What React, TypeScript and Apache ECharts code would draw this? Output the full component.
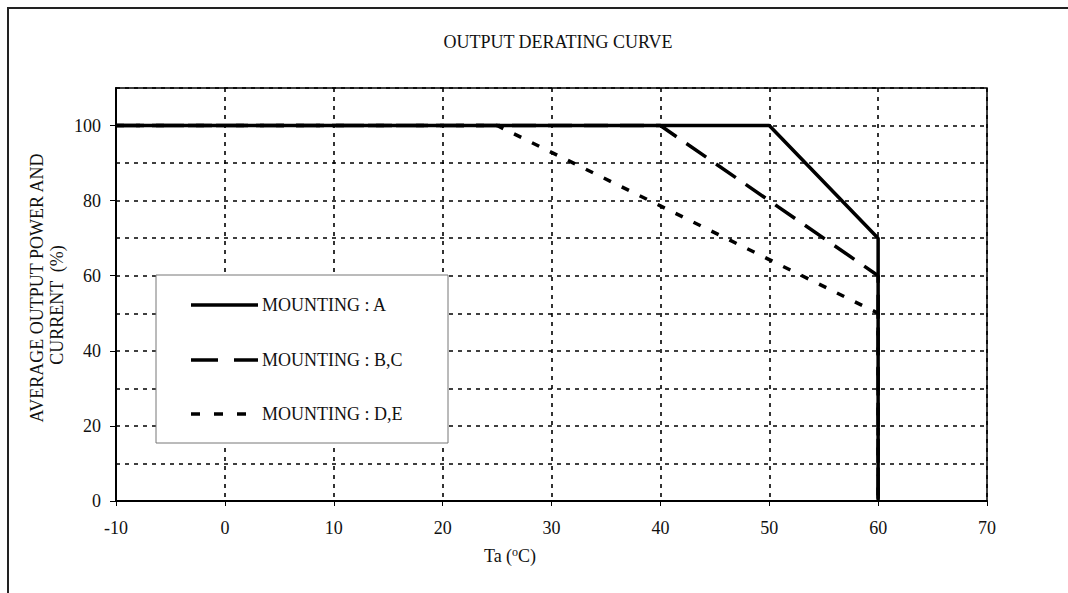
import React, { useEffect, useRef } from "react";
import * as echarts from "echarts";

const title = "OUTPUT DERATING CURVE";
const yNameLine1 = "AVERAGE OUTPUT POWER AND";
const yNameLine2 = "CURRENT  (%)";
const seriesNames = ["MOUNTING : A", "MOUNTING : B,C", "MOUNTING : D,E"];
const mountingA: [number, number][] = [[-10, 100], [50, 100], [60, 70], [60, 0]];
const mountingBC: [number, number][] = [[-10, 100], [40, 100], [50, 80], [60, 60], [60, 0]];
const mountingDE: [number, number][] = [[-10, 100], [25, 100], [40, 78.6], [50, 64.3], [60, 50], [60, 0]];

const FONT = "'Liberation Serif', 'Times New Roman', serif";
const dashes: (number[] | null)[] = [null, [27, 16], [9, 14]];

export default function App() {
  const ref = useRef<HTMLDivElement>(null);
  useEffect(() => {
    if (!ref.current) return;
    const chart = echarts.init(ref.current, undefined, { renderer: "svg" });
    const dotted = { color: "#000", width: 1.6, type: [4, 5] as number[] };

    const legendRows = [305, 360, 414];
    const legendGraphics: any[] = [];
    seriesNames.forEach((name, i) => {
      legendGraphics.push({
        type: "line",
        z: 7,
        shape: { x1: 191, y1: legendRows[i], x2: 258, y2: legendRows[i] },
        style: {
          stroke: "#000",
          lineWidth: 3.5,
          lineDash: dashes[i] || undefined,
        },
      });
      legendGraphics.push({
        type: "text",
        z: 7,
        x: 262,
        y: legendRows[i],
        style: {
          text: name,
          font: `18px ${FONT}`,
          fill: "#111",
          textAlign: "left",
          textVerticalAlign: "middle",
        },
      });
    });

    chart.setOption({
      animation: false,
      backgroundColor: "#fff",
      textStyle: { fontFamily: FONT, color: "#111" },
      grid: {
        left: 116,
        top: 88,
        right: 81,
        bottom: 92,
        show: true,
        borderColor: "#000",
        borderWidth: 1.5,
        backgroundColor: "transparent",
      },
      xAxis: {
        type: "value",
        min: -10,
        max: 70,
        interval: 10,
        axisLine: { onZero: false, lineStyle: { color: "#000", width: 2 } },
        axisTick: { show: true, length: 5, lineStyle: { color: "#000" } },
        axisLabel: { fontSize: 18, fontFamily: FONT, color: "#111", margin: 18 },
        splitLine: { show: true, lineStyle: dotted },
      },
      yAxis: [
        {
          type: "value",
          min: 0,
          max: 110,
          interval: 20,
          axisLine: { show: true, onZero: false, lineStyle: { color: "#000", width: 2 } },
          axisTick: { show: true, length: 6, lineStyle: { color: "#000" } },
          axisLabel: {
            fontSize: 18,
            fontFamily: FONT,
            color: "#111",
            margin: 15,
            showMaxLabel: false,
          },
          splitLine: { show: false },
        },
        {
          type: "value",
          min: 0,
          max: 110,
          interval: 10,
          position: "left",
          axisLine: { show: false, onZero: false },
          axisTick: { show: false },
          axisLabel: { show: false },
          splitLine: { show: true, lineStyle: dotted },
        },
      ],
      series: [
        {
          name: seriesNames[0],
          type: "line",
          data: mountingA,
          symbol: "none",
          z: 5,
          lineStyle: { color: "#000", width: 3.5, type: "solid" },
          itemStyle: { color: "#000" },
        },
        {
          name: seriesNames[1],
          type: "line",
          data: mountingBC,
          symbol: "none",
          z: 4,
          lineStyle: { color: "#000", width: 3.5, type: [24, 12] },
          itemStyle: { color: "#000" },
        },
        {
          name: seriesNames[2],
          type: "line",
          data: mountingDE,
          symbol: "none",
          z: 3,
          lineStyle: { color: "#000", width: 3.5, type: [8, 12] },
          itemStyle: { color: "#000" },
        },
      ],
      graphic: [
        {
          type: "polyline",
          z: 1,
          shape: { points: [[8, 593], [8, 8], [1068, 8]] },
          style: { stroke: "#222", lineWidth: 2, fill: "none" },
        },
        {
          type: "rect",
          z: 6,
          shape: { x: 156, y: 275, width: 292, height: 168 },
          style: { fill: "#fff", stroke: "#777", lineWidth: 1 },
        },
        ...legendGraphics,
        {
          type: "text",
          x: 558,
          y: 42,
          style: {
            text: title,
            font: `18px ${FONT}`,
            fill: "#111",
            textAlign: "center",
            textVerticalAlign: "middle",
          },
        },
        {
          type: "text",
          x: 37,
          y: 288,
          rotation: Math.PI / 2,
          style: {
            text: yNameLine1,
            font: `18px ${FONT}`,
            fill: "#111",
            textAlign: "center",
            textVerticalAlign: "middle",
          },
        },
        {
          type: "text",
          x: 57,
          y: 305,
          rotation: Math.PI / 2,
          style: {
            text: yNameLine2,
            font: `18px ${FONT}`,
            fill: "#111",
            textAlign: "center",
            textVerticalAlign: "middle",
          },
        },
        {
          type: "text",
          x: 510,
          y: 556,
          style: {
            text: "Ta ({sup|o}C)",
            font: `18px ${FONT}`,
            fill: "#111",
            textAlign: "center",
            textVerticalAlign: "middle",
            rich: {
              sup: {
                fontSize: 12,
                fontFamily: FONT,
                fill: "#111",
                verticalAlign: "top",
                padding: [0, 0, 8, 0],
              },
            },
          },
        },
      ],
    });
    return () => chart.dispose();
  }, []);
  return (
    <div
      ref={ref}
      style={{ position: "fixed", left: 0, top: 0, width: 1068, height: 593 }}
    />
  );
}
